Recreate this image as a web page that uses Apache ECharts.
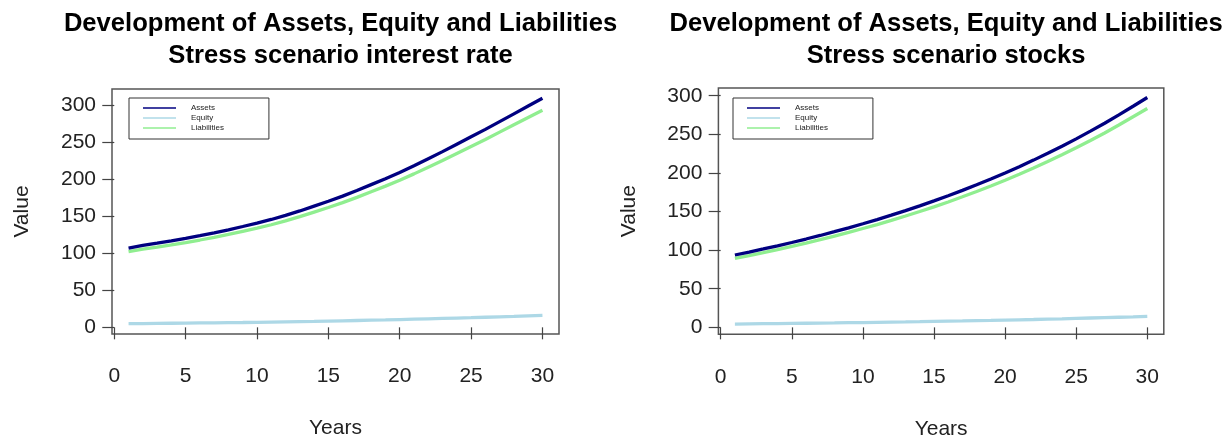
<!DOCTYPE html>
<html>
<head>
<meta charset="utf-8">
<script src="https://cdn.jsdelivr.net/npm/echarts@6/dist/echarts.min.js"></script>
<style>
  html, body { margin: 0; padding: 0; background: #ffffff; }
  #chart { width: 1229px; height: 438px; }
</style>
</head>
<body>
<div id="chart"></div>
<script>
// ---- data ----
const years = [1,2,3,4,5,6,7,8,9,10,11,12,13,14,15,16,17,18,19,20,21,22,23,24,25,26,27,28,29,30];

// Stress scenario interest rate
const assetsRate = [107.0,110.5,113.5,116.7,120.1,123.7,127.5,131.6,136.0,140.5,145.5,151.0,157.0,163.5,170.0,177.0,184.5,192.5,200.5,209.0,218.0,227.5,237.0,247.0,257.0,267.0,277.5,288.0,298.5,309.0];
const equityRate = [5.0,5.1,5.3,5.5,5.7,5.9,6.1,6.3,6.5,6.8,7.1,7.4,7.7,8.0,8.4,8.8,9.2,9.6,10.0,10.5,11.0,11.5,12.0,12.5,13.0,13.6,14.2,14.8,15.5,16.2];
const liabRate   = [102.0,105.4,108.2,111.2,114.4,117.8,121.4,125.3,129.5,133.7,138.4,143.6,149.3,155.5,161.6,168.2,175.3,182.9,190.5,198.5,207.0,216.0,225.0,234.5,244.0,253.4,263.3,273.2,283.0,292.8];

// Stress scenario stocks
const assetsStock = [93.7,97.5,101.5,105.6,109.9,114.4,119.0,123.9,128.9,134.2,139.6,145.3,151.2,157.4,163.8,170.4,177.4,184.6,192.1,200.0,208.1,216.6,225.4,234.6,244.1,254.1,264.4,275.2,286.4,297.7];
const equityStock = [4.3,4.5,4.7,4.9,5.1,5.3,5.5,5.7,6.0,6.2,6.5,6.8,7.0,7.3,7.7,8.0,8.3,8.7,9.0,9.4,9.8,10.2,10.7,11.1,11.6,12.1,12.6,13.1,13.6,14.2];
const liabStock   = [89.4,93.0,96.8,100.7,104.8,109.1,113.5,118.2,122.9,128.0,133.1,138.5,144.2,150.1,156.1,162.4,169.1,175.9,183.1,190.6,198.3,206.4,214.7,223.5,232.5,242.0,251.8,262.1,272.8,283.5];

const xTicks = [0,5,10,15,20,25,30];
const yTicks = [0,50,100,150,200,250,300];
const seriesNames = ['Assets','Equity','Liabilities'];
const titles = [
  'Development of Assets, Equity and Liabilities\nStress scenario interest rate',
  'Development of Assets, Equity and Liabilities\nStress scenario stocks'
];
const xName = 'Years';
const yName = 'Value';

// ---- styling ----
const FONT = "'Liberation Sans', Arial, Helvetica, sans-serif";
const colors = { Assets: '#000080', Equity: '#ADD8E6', Liabilities: '#90EE90' };

const panels = [
  { grid: { left: 112, top: 89, width: 447, height: 245 }, yMin: -9, yMax: 321.5,
    data: [assetsRate, equityRate, liabRate], legendPos: { left: 129, top: 98 } },
  { grid: { left: 718.4, top: 88, width: 445.4, height: 246.3 }, yMin: -9, yMax: 310,
    data: [assetsStock, equityStock, liabStock], legendPos: { left: 733, top: 98 } }
];

const pairs = (vals) => years.map((y, i) => [y, vals[i]]);

const option = {
  backgroundColor: '#ffffff',
  animation: false,
  textStyle: { fontFamily: FONT },
  title: panels.map((p, i) => ({
    text: titles[i],
    left: p.grid.left + p.grid.width / 2,
    top: 3,
    textAlign: 'center',
    textStyle: { fontFamily: FONT, fontSize: 25.6, fontWeight: 'bold', color: '#000', lineHeight: 32 }
  })),
  legend: panels.map((p, i) => ({
    data: seriesNames,
    orient: 'vertical',
    left: p.legendPos.left,
    top: p.legendPos.top,
    itemWidth: 33,
    itemHeight: 8,
    itemGap: 2,
    icon: 'path://M0,0L44,0L44,2L0,2Z',
    padding: [6, 45, 7, 14],
    borderColor: '#333',
    borderWidth: 1,
    textStyle: { fontFamily: FONT, fontSize: 8, color: '#222', padding: [0, 0, 0, 10] },
    selectedMode: false
  })),
  grid: panels.map(p => Object.assign({ show: true, borderColor: '#555', borderWidth: 1.5, backgroundColor: 'transparent', outerBoundsMode: 'none', containLabel: false }, p.grid)),
  xAxis: panels.map((p, i) => ({
    type: 'value',
    gridIndex: i,
    min: -0.16,
    max: 31.16,
    name: xName,
    nameLocation: 'middle',
    nameGap: 84,
    nameTextStyle: { fontFamily: FONT, fontSize: 21, color: '#222' },
    axisLine: { show: false },
    splitLine: { show: false },
    axisTick: { show: true, length: 12, inside: false, customValues: xTicks, lineStyle: { color: '#444', width: 1.2 } },
    axisLabel: { customValues: xTicks, fontSize: 21, color: '#222', margin: 32, lineHeight: 21, fontFamily: FONT }
  })),
  yAxis: panels.map((p, i) => ({
    type: 'value',
    gridIndex: i,
    min: p.yMin,
    max: p.yMax,
    name: yName,
    nameLocation: 'middle',
    nameGap: 79,
    nameTextStyle: { fontFamily: FONT, fontSize: 21, color: '#222' },
    axisLine: { show: false },
    splitLine: { show: false },
    axisTick: { show: true, length: 12, inside: false, customValues: yTicks, lineStyle: { color: '#444', width: 1.2 } },
    axisLabel: { customValues: yTicks, fontSize: 21, color: '#222', margin: 16, fontFamily: FONT }
  })),
  series: []
};

panels.forEach((p, pi) => {
  seriesNames.forEach((name, si) => {
    option.series.push({
      name: name,
      type: 'line',
      xAxisIndex: pi,
      yAxisIndex: pi,
      data: pairs(p.data[si]),
      symbol: 'none',
      smooth: false,
      color: colors[name],
      lineStyle: { color: colors[name], width: 3.3 },
      z: si === 0 ? 4 : 3
    });
  });
});

const chart = echarts.init(document.getElementById('chart'), null, { renderer: 'canvas' });
chart.setOption(option);
</script>
</body>
</html>
